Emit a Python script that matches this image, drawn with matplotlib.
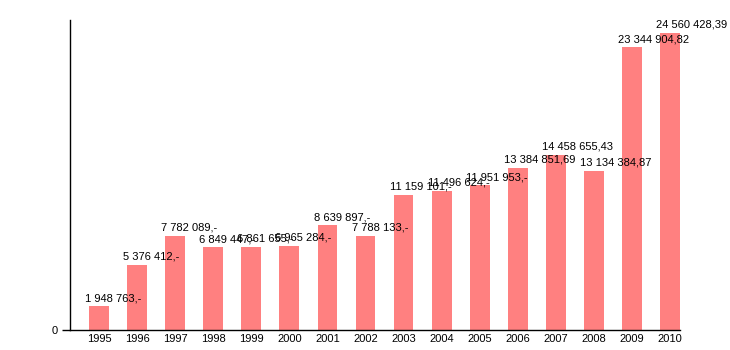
import matplotlib
matplotlib.use("Agg")
import matplotlib.pyplot as plt

years = ["1995", "1996", "1997", "1998", "1999", "2000", "2001", "2002",
         "2003", "2004", "2005", "2006", "2007", "2008", "2009", "2010"]
values = [1948763, 5376412, 7782089, 6849447, 6861655, 6965284, 8639897, 7788133,
          11159101, 11496624, 11951953, 13384851.69, 14458655.43, 13134384.87,
          23344904.82, 24560428.39]
labels = ["1 948 763,-", "5 376 412,-", "7 782 089,-", "6 849 447,-", "6 861 655,-",
          "6 965 284,-", "8 639 897,-", "7 788 133,-", "11 159 101,-", "11 496 624,-",
          "11 951 953,-", "13 384 851,69", "14 458 655,43", "13 134 384,87",
          "23 344 904,82", "24 560 428,39"]

plt.rcParams["font.family"] = ["Liberation Sans", "DejaVu Sans"]

fig = plt.figure(figsize=(7.3, 3.5), dpi=100)
ax = fig.add_axes([70 / 730, 20 / 350, 610 / 730, 310 / 350])

x = list(range(len(years)))
width = 0.52
bars = ax.bar(x, values, width=width, color="#ff8080", zorder=2)

for xi, v, lab in zip(x, values, labels):
    ax.annotate(lab, xy=(xi - width / 2, v), xytext=(-4, 3),
                textcoords="offset pixels", ha="left", va="bottom",
                fontsize=8, color="black", zorder=3)

ax.set_xlim(-0.76, 15.26)
ax.set_ylim(0, 25.6e6)
ax.set_xticks(x)
ax.set_xticklabels(years, fontsize=8)
ax.tick_params(axis="x", length=0, pad=3)
ax.set_yticks([0])
ax.set_yticklabels(["0"], fontsize=8)
ax.tick_params(axis="y", length=6, width=1, pad=3)

for side in ("top", "right"):
    ax.spines[side].set_visible(False)
for side in ("left", "bottom"):
    ax.spines[side].set_linewidth(1)
    ax.spines[side].set_color("black")

fig.savefig("out.png", dpi=100)
